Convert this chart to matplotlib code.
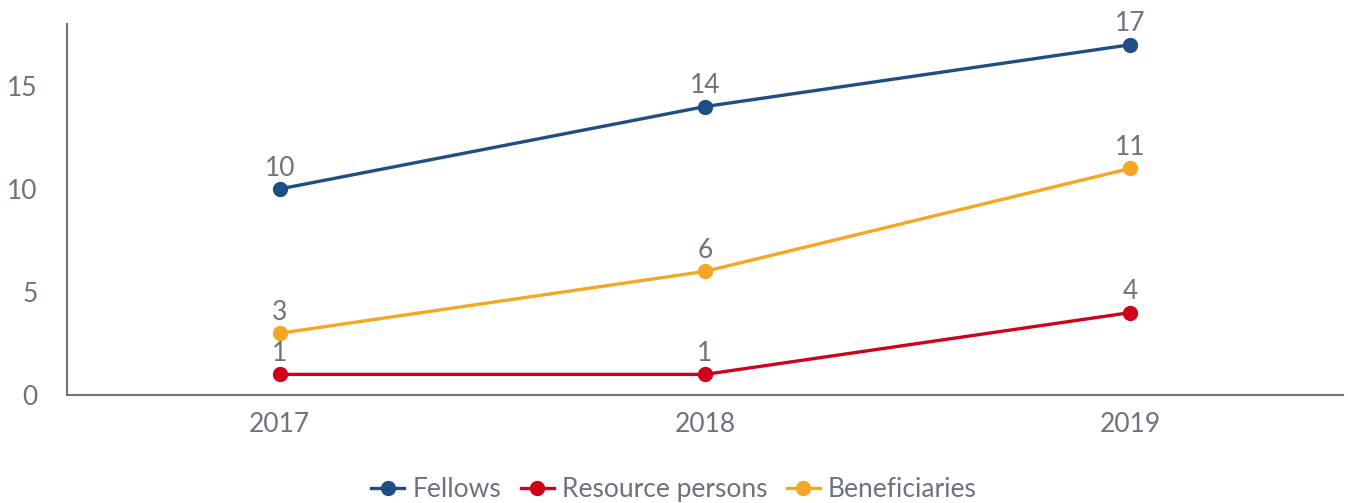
import matplotlib
matplotlib.use("Agg")
import matplotlib.pyplot as plt

years = ["2017", "2018", "2019"]
fellows = [10, 14, 17]
resource_persons = [1, 1, 4]
beneficiaries = [3, 6, 11]

series = [
    ("Fellows", fellows, "#1f4e85"),
    ("Resource persons", resource_persons, "#d0021b"),
    ("Beneficiaries", beneficiaries, "#f5a623"),
]

plt.rcParams['font.family'] = ['Lato', 'DejaVu Sans']
text_color = "#6b737e"

fig = plt.figure(figsize=(13.48, 5.03), dpi=100)
ax = fig.add_axes([0.0497, 0.2147, 0.9466, 0.7373])

x = list(range(len(years)))
for name, vals, color in series:
    ax.plot(x, vals, color=color, lw=2.4, marker="o", markersize=10, label=name)
    for xi, v in zip(x, vals):
        ax.annotate(str(v), (xi, v), xytext=(0, 6), textcoords="offset points",
                    ha="center", va="bottom", fontsize=19, color=text_color)

ax.set_xlim(-0.5, 2.5)
ax.set_ylim(0, 18)
ax.set_xticks(x)
ax.set_xticklabels(years)
ax.set_yticks([0, 5, 10, 15])
ax.tick_params(axis="both", length=0, labelsize=19, labelcolor=text_color)
ax.tick_params(axis="x", pad=12)
ax.tick_params(axis="y", pad=21)

for s in ["top", "right"]:
    ax.spines[s].set_visible(False)
for s in ["left", "bottom"]:
    ax.spines[s].set_color("#6b737e")
    ax.spines[s].set_linewidth(1.5)

leg = fig.legend(*ax.get_legend_handles_labels(), loc="center",
                 bbox_to_anchor=(0.5, 0.027), ncol=3,
                 frameon=False, fontsize=19, handlelength=1.25, columnspacing=0.75,
                 handletextpad=0.3, labelcolor=text_color, borderpad=0)

fig.savefig("out.png", dpi=100)
